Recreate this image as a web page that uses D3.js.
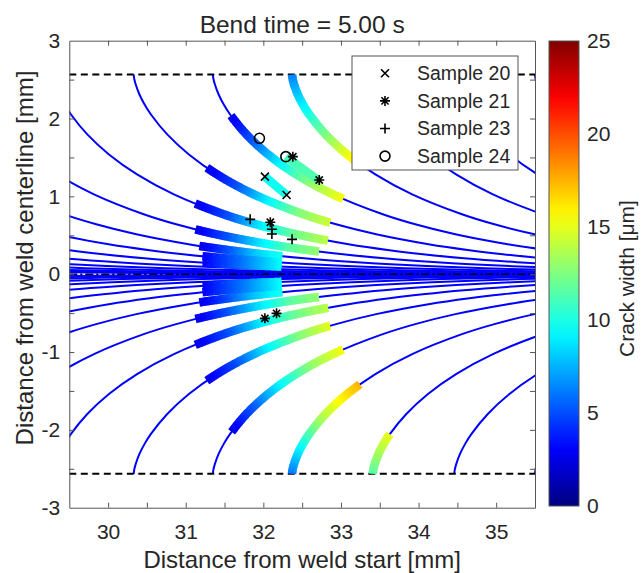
<!DOCTYPE html>
<html>
<head>
<meta charset="utf-8">
<script src="https://cdnjs.cloudflare.com/ajax/libs/d3/7.8.5/d3.min.js"></script>
<style>
html,body{margin:0;padding:0;background:#fff;}
svg{display:block;}
text{font-family:"Liberation Sans",Arial,Helvetica,sans-serif;fill:#262626;}
</style>
</head>
<body>
<svg id="chart" width="644" height="573"></svg>
<script>
// ---------------- data ----------------
const titleText = "Bend time = 5.00 s";
const xLabelText = "Distance from weld start [mm]";
const yLabelText = "Distance from weld centerline [mm]";
const cbLabelText = "Crack width [\u03bcm]";
const xDomain = [29.5, 35.5];
const yDomain = [-3, 3];
const xTickValues = [30, 30.5, 31, 31.5, 32, 32.5, 33, 33.5, 34, 34.5, 35];
const xTickLabels = [30, 31, 32, 33, 34, 35];
const yTickValues = [-2.5, -2, -1.5, -1, -0.5, 0, 0.5, 1, 1.5, 2, 2.5];
const yTickLabels = [-3, -2, -1, 0, 1, 2, 3];
const cbDomain = [0, 25];
const cbTicks = [0, 5, 10, 15, 20, 25];
const fusionLineY = 2.565;

// grain path shape: |y| (mm) vs x offset from its start on the fusion line (mm)
const profileY  = [2.565, 2.514, 2.437, 2.309, 2.180, 2.052, 1.796, 1.539, 1.283, 1.026, 0.770, 0.641, 0.513, 0.385, 0.308, 0.257, 0.205, 0.154, 0.128, 0.103, 0.077, 0.051, 0.038, 0.026, 0.0128, 0.0077, 0.0051, 0.0026, 0.001];
const profileDX = [0, 0.006, 0.026, 0.074, 0.140, 0.222, 0.432, 0.711, 1.073, 1.548, 2.189, 2.607, 3.124, 3.798, 4.325, 4.756, 5.285, 5.967, 6.401, 6.931, 7.615, 8.58, 9.265, 10.23, 11.88, 13.09, 14.06, 15.7, 17.9];
// x where each grain path leaves the fusion line
const pathStarts = [35.50, 34.46, 33.41, 32.37, 31.35, 30.33, 29.30, 28.27, 27.24, 26.21, 25.18, 24.15, 23.12, 22.09, 21.06, 20.03, 19.00];

// thick crack bands lying on grain paths
const bandPath  = [32.37, 31.35, 30.33, 29.30, 28.27, 27.24, 26.21, 25.18,
                   32.37, 33.41, 31.35, 30.33, 29.30, 28.27, 27.24, 26.21, 25.18];
const bandSide  = [1, 1, 1, 1, 1, 1, 1, 1,
                   -1, -1, -1, -1, -1, -1, -1, -1, -1];
const bandFrom  = [32.37, 31.58, 31.27, 31.12, 31.12, 31.17, 31.21, 31.21,
                   32.37, 33.41, 31.59, 31.27, 31.12, 31.12, 31.17, 31.21, 31.21];
const bandTo    = [33.22, 33.03, 32.86, 32.83, 32.72, 32.25, 32.24, 32.24,
                   33.25, 33.63, 33.03, 32.86, 32.84, 32.72, 32.25, 32.24, 32.24];
const bandValues = [
  [6.3, 9.5, 13, 16.5],
  [2.5, 5.5, 9.5, 13, 15.5],
  [2.5, 5, 9, 12.5, 14.5],
  [2.5, 5, 9, 12, 14],
  [2.5, 5, 8.5, 11.5, 13],
  [2.5, 5, 8, 10],
  [3, 6, 9.5],
  [3, 6, 9.5],
  [6, 9.5, 13, 15.5, 17.5],
  [11.5, 13.5, 15.2],
  [2.5, 5.5, 9.5, 13, 15.5],
  [2.5, 5, 9, 12.5, 15],
  [2.5, 5, 9, 12, 14],
  [2.5, 5, 8.5, 11.5, 13],
  [2.5, 5, 8, 10],
  [3, 6, 9.5],
  [3, 6, 9.5]
];

// short measured crack bands
const shortBandStart  = [[32.29, 1.51], [32.02, 1.253]];
const shortBandEnd    = [[32.72, 1.20], [32.30, 1.017]];
const shortBandValues = [[11, 11.5], [9.5, 10]];

// sample markers
const sampleNames   = ["Sample 20", "Sample 21", "Sample 23", "Sample 24"];
const sampleSymbols = ["x", "star", "plus", "circle"];
const sample20 = [[32.02, 1.253], [32.30, 1.017]];
const sample21 = [[32.38, 1.51], [32.72, 1.21], [32.09, 0.667], [32.02, -0.567], [32.17, -0.503]];
const sample23 = [[31.83, 0.705], [32.11, 0.577], [32.11, 0.516], [32.37, 0.448]];
const sample24 = [[31.95, 1.746], [32.29, 1.51]];

// ---------------- drawing ----------------
const svg = d3.select("#chart");
const x = d3.scaleLinear().domain(xDomain).range([69.3, 535]);
const y = d3.scaleLinear().domain(yDomain).range([507.7, 40.7]);

const jet = d3.scaleLinear()
  .domain([0, 3.125, 9.375, 15.625, 21.875, 25])
  .range(["#000080", "#0000ff", "#00ffff", "#ffff00", "#ff0000", "#800000"])
  .clamp(true);

const defs = svg.append("defs");
defs.append("clipPath").attr("id", "clip").append("rect")
  .attr("x", x(xDomain[0])).attr("y", y(yDomain[1]))
  .attr("width", x(xDomain[1]) - x(xDomain[0])).attr("height", y(yDomain[0]) - y(yDomain[1]));

const plot = svg.append("g").attr("clip-path", "url(#clip)");

// grain paths
const line = d3.line().curve(d3.curveCatmullRom.alpha(0.5));
const curveNodes = {};
const gCurves = plot.append("g");
pathStarts.forEach(s => {
  [1, -1].forEach(side => {
    const pts = profileY.map((yy, i) => [x(s + profileDX[i]), y(side * yy)]);
    const p = gCurves.append("path").attr("d", line(pts))
      .attr("fill", "none").attr("stroke", "#0000ff").attr("stroke-width", 2);
    curveNodes[s + "_" + side] = p.node();
  });
});

// fusion lines and centerline
[fusionLineY, -fusionLineY].forEach(v => {
  plot.append("line").attr("x1", x(xDomain[0])).attr("x2", x(xDomain[1]))
    .attr("y1", y(v)).attr("y2", y(v))
    .attr("stroke", "#000").attr("stroke-width", 2).attr("stroke-dasharray", "7,4.5");
});
plot.append("line").attr("x1", x(xDomain[0])).attr("x2", x(xDomain[1]))
  .attr("y1", y(0)).attr("y2", y(0))
  .attr("stroke", "#000").attr("stroke-width", 1.6).attr("stroke-dasharray", "8,3,2,3");

// bands
const bandStroke = 8.5;
const gBands = plot.append("g");
function drawBand(pts, values) {
  if (pts.length < 2) return;
  const cum = [0];
  for (let i = 1; i < pts.length; i++) cum.push(cum[i - 1] + Math.hypot(pts[i][0] - pts[i - 1][0], pts[i][1] - pts[i - 1][1]));
  const total = cum[cum.length - 1];
  const vScale = d3.scaleLinear().domain(values.map((v, i) => i / (values.length - 1) * total)).range(values);
  const step = 2;
  for (let i = 0; i < pts.length - 1; i += step) {
    const j = Math.min(pts.length - 1, i + step + 1);
    const seg = pts.slice(i, j + 1);
    const mid = (cum[i] + cum[Math.min(pts.length - 1, i + step)]) / 2;
    gBands.append("path").attr("d", d3.line()(seg))
      .attr("fill", "none").attr("stroke", jet(vScale(mid)))
      .attr("stroke-width", bandStroke).attr("stroke-linecap", "butt");
  }
}
bandPath.forEach((s, k) => {
  const node = curveNodes[s + "_" + bandSide[k]];
  const L = node.getTotalLength();
  const x0 = x(bandFrom[k]) - 0.01, x1 = x(bandTo[k]);
  const pts = [];
  const N = 2500;
  for (let i = 0; i <= N; i++) {
    const p = node.getPointAtLength(L * i / N);
    if (p.x > x1) break;
    if (p.x >= x0) pts.push([p.x, p.y]);
  }
  drawBand(pts, bandValues[k]);
});
shortBandStart.forEach((a, k) => {
  const b = shortBandEnd[k];
  const pts = d3.range(0, 41).map(i => [x(a[0] + (b[0] - a[0]) * i / 40), y(a[1] + (b[1] - a[1]) * i / 40)]);
  drawBand(pts, shortBandValues[k]);
});

// markers
function marker(g, sym, cx, cy) {
  let el;
  if (sym === "x") {
    const r = 4;
    el = g.append("path").attr("d", `M${cx - r},${cy - r}L${cx + r},${cy + r}M${cx - r},${cy + r}L${cx + r},${cy - r}`);
  } else if (sym === "plus") {
    const r = 5;
    el = g.append("path").attr("d", `M${cx - r},${cy}L${cx + r},${cy}M${cx},${cy - r}L${cx},${cy + r}`);
  } else if (sym === "star") {
    const r = 5, d = 3.6;
    el = g.append("path").attr("d", `M${cx - r},${cy}L${cx + r},${cy}M${cx},${cy - r}L${cx},${cy + r}M${cx - d},${cy - d}L${cx + d},${cy + d}M${cx - d},${cy + d}L${cx + d},${cy - d}`);
  } else {
    el = g.append("circle").attr("cx", cx).attr("cy", cy).attr("r", 5);
  }
  el.attr("stroke", "#000").attr("stroke-width", 1.6).attr("fill", "none");
}
const gMarkers = plot.append("g");
[sample20, sample21, sample23, sample24].forEach((arr, k) => {
  arr.forEach(d => marker(gMarkers, sampleSymbols[k], x(d[0]), y(d[1])));
});

// axes
function styleAxis(g) {
  g.selectAll(".domain").attr("stroke", "#555").attr("stroke-width", 1);
  g.selectAll(".tick line").attr("stroke", "#555").attr("stroke-width", 1);
  g.selectAll("text").style("font-size", "21px").attr("fill", "#262626")
    .style("font-family", "'Liberation Sans',Arial,Helvetica,sans-serif");
}
const fmtX = d => xTickLabels.includes(d) ? String(d) : "";
const fmtY = d => yTickLabels.includes(d) ? String(d) : "";
const gx = svg.append("g").attr("transform", `translate(0,${y(yDomain[0])})`)
  .call(d3.axisBottom(x).tickValues(xTickValues).tickFormat(fmtX).tickSizeInner(-5).tickSizeOuter(0).tickPadding(16));
styleAxis(gx);
const gxt = svg.append("g").attr("transform", `translate(0,${y(yDomain[1])})`)
  .call(d3.axisTop(x).tickValues(xTickValues).tickFormat("").tickSizeInner(-5).tickSizeOuter(0));
styleAxis(gxt);
const gy = svg.append("g").attr("transform", `translate(${x(xDomain[0])},0)`)
  .call(d3.axisLeft(y).tickValues(yTickValues.concat([-3, 3])).tickFormat(fmtY).tickSizeInner(-5).tickSizeOuter(0).tickPadding(9));
styleAxis(gy);
gy.selectAll(".tick").filter(d => d === -3 || d === 3).select("line").remove();
const gyr = svg.append("g").attr("transform", `translate(${x(xDomain[1])},0)`)
  .call(d3.axisRight(y).tickValues(yTickValues).tickFormat("").tickSizeInner(-5).tickSizeOuter(0));
styleAxis(gyr);

// legend
const lg = svg.append("g");
lg.append("rect").attr("x", 352).attr("y", 56).attr("width", 166).attr("height", 114)
  .attr("fill", "#fff").attr("stroke", "#555").attr("stroke-width", 1);
sampleNames.forEach((nm, k) => {
  const cy = 73.3 + k * 27.6;
  marker(lg, sampleSymbols[k], 385, cy);
  lg.append("text").attr("x", 417).attr("y", cy).attr("dy", "0.35em")
    .style("font-size", "19.5px").text(nm);
});

// title and labels
svg.append("text").attr("x", (x(xDomain[0]) + x(xDomain[1])) / 2).attr("y", 33)
  .attr("text-anchor", "middle").style("font-size", "24.5px").text(titleText);
svg.append("text").attr("x", (x(xDomain[0]) + x(xDomain[1])) / 2).attr("y", 568)
  .attr("text-anchor", "middle").style("font-size", "24px").text(xLabelText);
svg.append("text").attr("transform", `translate(33,258) rotate(-90)`)
  .attr("text-anchor", "middle").style("font-size", "24px").text(yLabelText);

// colorbar
const cbX = 549, cbW = 30, cbTop = 41, cbBot = 506;
const grad = defs.append("linearGradient").attr("id", "jetgrad")
  .attr("x1", 0).attr("y1", 1).attr("x2", 0).attr("y2", 0);
d3.range(0, 26).forEach(v => {
  grad.append("stop").attr("offset", v / 25).attr("stop-color", jet(v));
});
const cbScale = d3.scaleLinear().domain(cbDomain).range([cbBot, cbTop]);
svg.append("rect").attr("x", cbX).attr("y", cbTop).attr("width", cbW).attr("height", cbBot - cbTop)
  .attr("fill", "url(#jetgrad)").attr("stroke", "#555").attr("stroke-width", 1);
const gcb = svg.append("g").attr("transform", `translate(${cbX + cbW},0)`)
  .call(d3.axisRight(cbScale).tickValues(cbTicks).tickSize(0).tickPadding(8));
styleAxis(gcb);
gcb.select(".domain").remove();
svg.append("text").attr("transform", `translate(634,${(cbTop + cbBot) / 2 + 5}) rotate(-90)`)
  .attr("text-anchor", "middle").style("font-size", "21px").text(cbLabelText);
</script>
</body>
</html>
